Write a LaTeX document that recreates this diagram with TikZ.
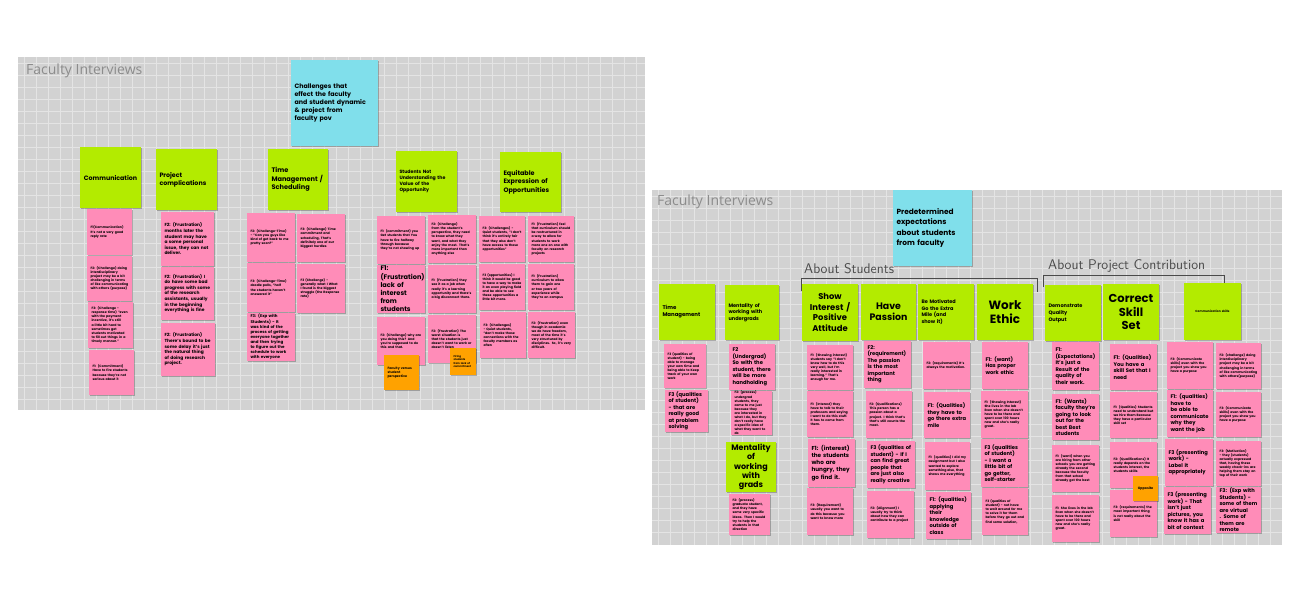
\documentclass[tikz,border=0pt]{standalone}
\usepackage{fontspec}
\setmainfont{Poppins}
\newfontfamily\labfont{Open Sans}
\usetikzlibrary{shadows}
\definecolor{boardc}{HTML}{D2D2D2}
\definecolor{gridc}{HTML}{E4E4E4}
\definecolor{limec}{HTML}{B3EB00}
\definecolor{pinkc}{HTML}{FF8CB8}
\definecolor{cyanc}{HTML}{80DFEB}
\definecolor{orangec}{HTML}{FFA200}
\definecolor{titlegray}{HTML}{8C8C8C}
\definecolor{penc}{HTML}{4A4A4A}
\AtBeginDocument{\hyphenpenalty=10000 \exhyphenpenalty=10000}
\newcommand\fs[2]{\fontsize{#1}{#2}\selectfont}
% #1 name, #2 style, #3 x1, #4 y1, #5 x2, #6 y2, #7 text
\newcommand\stick[7]{%
  \pgfmathsetmacro\sw{#5-#3}\pgfmathsetmacro\sh{#6-#4}\pgfmathsetmacro\tw{#5-#3-7}%
  \node[#2, minimum width=\sw pt, minimum height=\sh pt, text width=\tw pt] (#1) at ({(#3+#5)/2},{(#4+#6)/2}) {#7};}
\tikzset{
  sticky/.style={inner sep=0pt, outer sep=0pt, font=\bfseries, align=left,
    drop shadow={shadow xshift=0.6pt, shadow yshift=-0.9pt, opacity=0.25, fill=black}},
  pinknote/.style={sticky, fill=pinkc},
  greennote/.style={sticky, fill=limec},
  cyannote/.style={sticky, fill=cyanc},
  orangenote/.style={sticky, fill=orangec},
  ctr/.style={align=center},
  tiny/.style={font=\bfseries\fs{3.2}{4.1}},
  small/.style={font=\bfseries\fs{4.4}{5.6}},
  mid/.style={font=\bfseries\fs{5.2}{6.5}},
  boardbg/.style={fill=boardc},
  gridline/.style={draw=gridc, line width=0.8pt},
  boardtitle/.style={font=\labfont\fs{14}{16}, text=titlegray, anchor=west, inner sep=0pt},
  hand/.style={font=\sffamily\fs{14}{16}, text=penc, anchor=south west, inner sep=0pt},
  bracket/.style={draw=penc, line width=0.7pt}
}
\begin{document}
\begin{tikzpicture}[x=1pt,y=-1pt]
\useasboundingbox[fill=white] (0,0) rectangle (1300,600);
% ---------- boards ----------
\fill[boardbg] (18,57) rectangle (645,410);
\foreach \gx in {24,36,...,640} \draw[gridline] (\gx,57) -- (\gx,410);
\foreach \gy in {63,75,...,405} \draw[gridline] (18,\gy) -- (645,\gy);
\fill[boardbg] (652,190) rectangle (1282,545);
\foreach \gx in {658,670,...,1278} \draw[gridline] (\gx,190) -- (\gx,545);
\foreach \gy in {196,208,...,540} \draw[gridline] (652,\gy) -- (1282,\gy);
\node[boardtitle] (t1) at (26,71) {Faculty Interviews};
\node[boardtitle] (t2) at (657,202) {Faculty Interviews};
% ---------- left board ----------
\stick{c1}{cyannote,font=\bfseries\fs{6.3}{8.2}}{291}{60}{378}{146}{Challenges that\\effect the faculty\\and student dynamic\\\& project from\\faculty pov}
\stick{h1}{greennote,ctr,font=\bfseries\fs{6.3}{8}}{80}{147}{141}{208}{Communication}
\stick{h2}{greennote,font=\bfseries\fs{6.3}{8}}{156}{149}{217}{210}{Project\\complications}
\stick{h3}{greennote,font=\bfseries\fs{6.6}{8.4}}{268}{149}{328}{210}{Time\\Management /\\Scheduling}
\stick{h4}{greennote,font=\bfseries\fs{4.7}{6}}{396}{151}{457}{212}{Students Not\\Understanding the\\Value of the\\Opportunity}
\stick{h5}{greennote,font=\bfseries\fs{6.4}{8.4}}{500}{152}{561}{212}{Equitable\\Expression of\\Opportunities}
% communication
\stick{a1}{pinknote,tiny}{87}{209}{132}{255}{F1(Communication) It's not a very good reply rate}
\stick{a2}{pinknote,tiny}{87}{256}{132}{301}{F2: (Challenge) doing interdisciplinary project may be a bit challenging in terms of like communicating with others (purpose)}
\stick{a3}{pinknote,tiny}{88}{302}{133}{348}{F3: (Challenge - response time) "even with the payment incentive, it's still a little bit hard to sometimes get students motivated to fill out things in a timely manner."}
\stick{a4}{pinknote,tiny}{89}{350}{134}{395}{F1: (Commitment) Have to fire students because they're not serious about it}
% project complications
\stick{b1}{pinknote,small}{161}{212}{214}{266}{F2: (Frustration) months later the student may have a some personal issue, they can not deliver.}
\stick{b2}{pinknote,small}{161}{267}{214}{320}{F2: (Frustration) I do have some bad progress with some of the research assistants, usually in the beginning everything is fine}
\stick{b3}{pinknote,small}{161}{323}{215}{376}{F2: (Frustration) There's bound to be some delay it's just the natural thing of doing research project.}
% time management
\stick{d1}{pinknote,tiny}{247}{213}{295}{262}{F2: (Challenge-Time) - "Can you guys like kind of get back to me pretty soon?"}
\stick{d2}{pinknote,tiny}{297}{214}{345}{262}{F3: (Challenge) Time commitment and scheduling, That's definitely one of our biggest hurdles}
\stick{d3}{pinknote,tiny}{247}{263}{295}{312}{F3: (Challenge-Time) doodle polls, "half the students haven't answered it"}
\stick{d4}{pinknote,tiny}{297}{264}{345}{313}{F3 (Challenge) - generally what I What I found is the biggest struggle (the Response rate)}
\stick{d5}{pinknote,font=\bfseries\fs{4}{5.1}}{247}{313}{295}{361}{F3: (Exp with Students) - It was kind of the process of getting everyone together and then trying to figure out the schedule to work with everyone}
% students not understanding
\stick{e1}{pinknote,tiny}{377}{216}{425}{264}{F1: (commitment) you Get students that You have to fire halfway through because they're not showing up}
\stick{e2}{pinknote,tiny}{428}{215}{476}{263}{F2: (Challenge) from the student's perspective, they need to know what they want, and what they enjoy the most. That's more important than anything else}
\stick{e3}{pinknote,font=\bfseries\fs{6.6}{8.2}}{377}{265}{425}{313}{F1:\\(Frustration)\\lack of\\interest from\\students}
\stick{e4}{pinknote,tiny}{428}{265}{476}{313}{F1: (Frustration) they see it as a job when really it's a learning opportunity and there's a big disconnect there.}
\stick{e5}{pinknote,tiny}{377}{317}{425}{365}{F2: (Challenge) why are you doing this? And you're supposed to do this and that.}
\stick{e6}{pinknote,tiny}{428}{315}{476}{363}{F2: (Frustration) The worst situation is that the students just doesn't want to work or doesn't listen}
\stick{o1}{orangenote,tiny}{384}{355}{419}{390}{Faculty versus student perspective}
\stick{o2}{orangenote,font=\bfseries\fs{2.6}{3.4}}{450}{348}{476}{375}{Firing students from lack of commitment}
% equitable
\stick{f1}{pinknote,tiny}{479}{216}{525}{262}{F3: (Challenges) - Quiet students, "I don't think it's entirely fair that they also don't have access to these opportunities"}
\stick{f2}{pinknote,tiny}{528}{216}{574}{262}{F1: (Frustration) feel that curriculum should be restructured in a way to allow for students to work more one on one with faculty on research projects}
\stick{f3}{pinknote,tiny}{479}{264}{525}{310}{F3 (opportunities) I think it would be good to have a way to make it an even playing field and be able to see these opportunities a little bit more.}
\stick{f4}{pinknote,tiny}{528}{264}{574}{310}{F1: (Frustration) curriculum to allow them to gain one or two years of experience while they're on campus}
\stick{f5}{pinknote,tiny}{480}{312}{526}{358}{F3: (Challenges) - Quiet students, "don't make those connections with the faculty members as often}
\stick{f6}{pinknote,tiny}{528}{312}{575}{358}{F2: (Frustration) even though in academia we do have freedom, most of the time it's very structured by disciplines. So, it's very difficult.}
% ---------- right board ----------
\stick{c2}{cyannote,font=\bfseries\fs{7.4}{10.6}}{893}{190}{972}{266}{Predetermined\\expectations\\about students\\from faculty}
\node[hand] (l1) at (804,274) {About Students};
\node[hand] (l2) at (1048,273) {About Project Contribution};
\draw[bracket] (801,291) -- (801,278) -- (1037,278) -- (1037,292);
\draw[bracket] (1043,287) -- (1043,275) -- (1224,275) -- (1224,288);
\stick{g1}{greennote,font=\bfseries\fs{5.4}{7}}{659}{284}{715}{340}{Time\\Management}
\stick{g2}{greennote,font=\bfseries\fs{5}{6.6}}{725}{285}{779}{340}{Mentality of\\working with\\undergrads}
\stick{g3}{greennote,ctr,font=\bfseries\fs{8.4}{10.4}}{802}{284}{858}{341}{Show\\Interest /\\Positive\\Attitude}
\stick{g4}{greennote,ctr,font=\bfseries\fs{9.4}{11}}{861}{284}{916}{340}{Have\\Passion}
\stick{g5}{greennote,font=\bfseries\fs{5}{6.4}}{918}{284}{974}{340}{Be Motivated\\Go the Extra\\Mile (and\\show it)}
\stick{g6}{greennote,ctr,font=\bfseries\fs{12}{14.5}}{977}{284}{1033}{340}{Work\\Ethic}
\stick{g7}{greennote,font=\bfseries\fs{5}{7}}{1045}{285}{1101}{341}{Demonstrate\\Quality\\Output}
\stick{g8}{greennote,ctr,font=\bfseries\fs{11.5}{13.8}}{1103}{284}{1159}{340}{Correct\\Skill\\Set}
\stick{g9}{greennote,ctr,font=\bfseries\fs{3}{3.8}}{1184}{283}{1241}{340}{Communication skills}
\stick{g10}{greennote,ctr,font=\bfseries\fs{8}{9.4}}{726}{442}{776}{492}{Mentality\\of working\\with grads}
% time management col
\stick{p1}{pinknote,tiny}{664}{344}{706}{388}{F3 (qualities of student) - being able to manage your own time and being able to Keep track of your own work}
\stick{p2}{pinknote,mid}{665}{390}{708}{432}{F3 (qualities of student) - that are really good at problem solving}
% undergrads col
\stick{p3}{pinknote,mid}{729}{344}{775}{390}{F2\\(Undergrad)\\So with the student, there will be more handholding}
\stick{p4}{pinknote,tiny}{731}{392}{772}{434}{F2: (process) undergrad students, they come to me just because they are interested in what I do, but they don't really have a specific idea of what they want to do}
\stick{p5}{pinknote,tiny}{729}{494}{770}{535}{F2: (process) graduate student, and they have some very specific ideas. Then I would try to help the students in that direction}
% show interest col
\stick{q1}{pinknote,tiny}{807}{345}{853}{390}{F1: (Showing interest) students say "I don't know how to do this very well, but I'm really interested in learning." That's enough for me.}
\stick{q2}{pinknote,tiny}{807}{391}{853}{437}{F1: (Interest) they have to talk to their professors and saying I want to do this stuff. It has to come from them.}
\stick{q3}{pinknote,font=\bfseries\fs{5.7}{7.1}}{808}{439}{855}{487}{F1: (interest) the students who are hungry, they go find it.}
\stick{q4}{pinknote,tiny}{807}{488}{853}{535}{F3: (Requirement) usually you want to do this because you want to know more}
% have passion col
\stick{r1}{pinknote,mid}{864}{341}{911}{388}{F2:\\(requirement)\\The passion is the most important thing}
\stick{r2}{pinknote,tiny}{866}{391}{912}{438}{F2: (Qualifications) This person has a passion about a project. I think that's that's still counts the most.}
\stick{r3}{pinknote,mid}{867}{441}{915}{488}{F3 (qualities of student) - If I can find great people that are just also really creative}
\stick{r4}{pinknote,tiny}{867}{491}{914}{538}{F2: (Alignment) I usually try to think about how they can contribute to a project}
% be motivated col
\stick{s1}{pinknote,tiny}{923}{342}{970}{389}{F2: (requirements) It's always the motivation.}
\stick{s2}{pinknote,mid}{924}{392}{970}{438}{F1: (Qualities) they have to go there extra mile}
\stick{s3}{pinknote,tiny}{925}{442}{970}{490}{F1: (qualities) I did my assignment but I also wanted to explore something else, that shows me everything}
\stick{s4}{pinknote,mid}{926}{492}{971}{539}{F1: (qualities) applying their knowledge outside of class}
% work ethic col
\stick{w1}{pinknote,mid}{982}{342}{1028}{389}{F1: (want) Has proper work ethic}
\stick{w2}{pinknote,tiny}{981}{391}{1028}{438}{F1: (Showing Interest) She lives in the lab Even when she doesn't have to be there and spent over 100 hours now and she's really great.}
\stick{w3}{pinknote,mid}{981}{439}{1028}{487}{F3 (qualities of student) - I want a little bit of go getter, self-starter}
\stick{w4}{pinknote,tiny}{982}{488}{1028}{535}{F3 (qualities of student) - not have to wait around for me to solve it for them before they go out and find some solution,}
% demonstrate quality col
\stick{x1}{pinknote,mid}{1052}{342}{1099}{390}{F1:\\(Expectations)\\It's just a Result of the quality of their work.}
\stick{x2}{pinknote,mid}{1052}{394}{1099}{440}{F1: (Wants) faculty they're going to look out for the best Best students}
\stick{x3}{pinknote,tiny}{1052}{445}{1099}{492}{F1: (want) when you are hiring from other schools you are getting already the second because the faculty from that school already got the best}
\stick{x4}{pinknote,tiny}{1052}{495}{1099}{542}{F1: She lives in the lab Even when she doesn't have to be there and spent over 100 hours now and she's really great.}
% correct skill set col
\stick{y1}{pinknote,mid}{1110}{344}{1157}{390}{F1: (Qualities) You have a skill Set that I need}
\stick{y2}{pinknote,tiny}{1110}{392}{1157}{438}{F1: (Qualities) Students need to understand but we hire them Because they have a particular skill set}
\stick{y3}{pinknote,tiny}{1110}{442}{1157}{488}{F2: (Qualifications) It really depends on the students interest, the students skills}
\stick{y4}{pinknote,tiny}{1110}{490}{1157}{537}{F3: (requirements) the most important thing is not really about the skill}
\stick{o3}{orangenote,ctr,font=\bfseries\fs{3.3}{4}}{1133}{476}{1158}{501}{Opposite}
% communication skills col
\stick{z1}{pinknote,tiny}{1167}{342}{1213}{389}{F3: (Communicate skills) even with the project you show you have a purpose}
\stick{z2}{pinknote,tiny}{1216}{343}{1261}{389}{F2: (challenge) doing interdisciplinary project may be a bit challenging in terms of like communicating with others(purpose)}
\stick{z3}{pinknote,mid}{1167}{390}{1213}{437}{F1: (qualities) have to be able to communicate why they want the job}
\stick{z4}{pinknote,tiny}{1216}{392}{1261}{437}{F3: (Communicate skills) even with the project you show you have a purpose}
\stick{z5}{pinknote,mid}{1165}{439}{1213}{486}{F3 (presenting work) - Label it appropriately}
\stick{z6}{pinknote,tiny}{1216}{441}{1261}{486}{F3: (Motivation) - they (students) actually expressed that, having these weekly check-ins are helping them stay on top of their work}
\stick{z7}{pinknote,mid}{1164}{487}{1211}{534}{F3 (presenting work) - That isn't just pictures, you know it has a bit of context}
\stick{z8}{pinknote,mid}{1216}{487}{1261}{533}{F3: (Exp with Students) - some of them are virtual . Some of them are remote}
\end{tikzpicture}
\end{document}
